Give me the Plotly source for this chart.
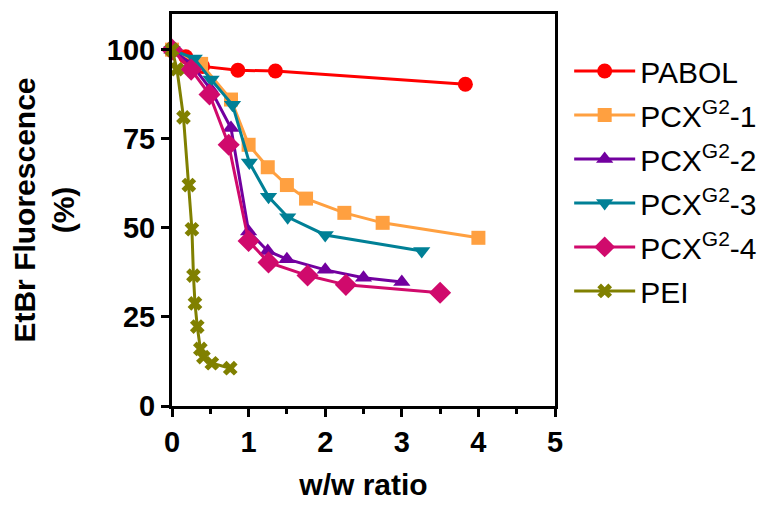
import plotly.graph_objects as go

# ---- data ----
pabol_x = [0, 0.18, 0.4, 0.86, 1.35, 3.83]
pabol_y = [100, 98, 95.3, 94.2, 94, 90.3]

pcx1_x = [0, 0.38, 0.77, 1.0, 1.25, 1.5, 1.75, 2.25, 2.75, 4.0]
pcx1_y = [100, 96, 86, 73.3, 67, 62, 58.2, 54.2, 51.4, 47.2]

pcx2_x = [0, 0.25, 0.5, 0.77, 1.0, 1.25, 1.5, 2.0, 2.5, 3.0]
pcx2_y = [100, 96, 89, 78, 49, 43.5, 41.2, 38.2, 36, 34.8]

pcx3_x = [0, 0.29, 0.51, 0.79, 1.01, 1.26, 1.51, 2.0, 3.26]
pcx3_y = [100, 97.5, 91.6, 84.5, 68.3, 58.7, 53, 48, 43.5]

pcx4_x = [0, 0.25, 0.49, 0.74, 1.0, 1.26, 1.77, 2.27, 3.5]
pcx4_y = [100, 94.4, 87.4, 73.3, 46.3, 40.3, 36.6, 34, 31.8]

pei_x = [0, 0.065, 0.15, 0.22, 0.26, 0.28, 0.30, 0.33, 0.37, 0.41, 0.52, 0.76]
pei_y = [100, 94.5, 81, 62, 49.6, 36.6, 28.8, 22.3, 16, 13.7, 12, 10.6]

x_ticks = [0, 1, 2, 3, 4, 5]
y_ticks = [0, 25, 50, 75, 100]

series = [
    ("PABOL", pabol_x, pabol_y, "#FF0000", "circle", 15),
    ("PCX<sup>G2</sup>-1", pcx1_x, pcx1_y, "#FFA040", "square", 14),
    ("PCX<sup>G2</sup>-2", pcx2_x, pcx2_y, "#72009F", "triangle-up", 15),
    ("PCX<sup>G2</sup>-3", pcx3_x, pcx3_y, "#008096", "triangle-down", 15),
    ("PCX<sup>G2</sup>-4", pcx4_x, pcx4_y, "#D00A6C", "diamond", 17),
    ("PEI", pei_x, pei_y, "#808000", "x", 13),
]

fig = go.Figure()
for i, (name, xs, ys, col, sym, sz) in enumerate(series):
    fig.add_trace(go.Scatter(
        x=xs, y=ys, name=name, mode="lines+markers",
        legendgroup="g%d" % i,
        line=dict(color=col, width=3),
        marker=dict(color=col, symbol=sym, size=sz, line=dict(width=0)),
        cliponaxis=False,
    ))

font_family = "Liberation Sans, Arial, sans-serif"

fig.update_layout(
    width=773, height=506,
    margin=dict(l=164, r=226, t=6, b=108, autoexpand=False),
    paper_bgcolor="white", plot_bgcolor="white",
    font=dict(family=font_family, color="black"),
    showlegend=True,
    legend=dict(
        x=1.037, xanchor="left", y=0.921, yanchor="top",
        font=dict(size=30, family=font_family, color="black"),
        bgcolor="rgba(0,0,0,0)", itemwidth=61, tracegroupgap=2,
        borderwidth=0, maxheight=480,
    ),
    xaxis=dict(
        range=[0, 5], tickvals=x_ticks, ticktext=[str(v) for v in x_ticks],
        showline=True, linecolor="black", linewidth=3, mirror=True,
        ticks="outside", ticklen=8, tickwidth=3, tickcolor="black",
        minor=dict(dtick=0.5, ticks="outside", ticklen=5, tickwidth=3, tickcolor="black"),
        showgrid=False, zeroline=False, automargin=False,
        tickfont=dict(size=29, family=font_family, weight="bold"),
        title=dict(text="<b>w/w ratio</b>", font=dict(size=30, family=font_family), standoff=18),
    ),
    yaxis=dict(
        range=[0, 110], tickvals=y_ticks, ticktext=[str(v) for v in y_ticks],
        showline=True, linecolor="black", linewidth=3, mirror=True,
        ticks="outside", ticklen=8, tickwidth=3, tickcolor="black",
        showgrid=False, zeroline=False, automargin=False,
        tickfont=dict(size=29, family=font_family, weight="bold"),
        title=dict(text="<b>EtBr Fluorescence<br>(%)</b>", font=dict(size=30, family=font_family), standoff=25),
    ),
)

fig.write_html("out.html")
